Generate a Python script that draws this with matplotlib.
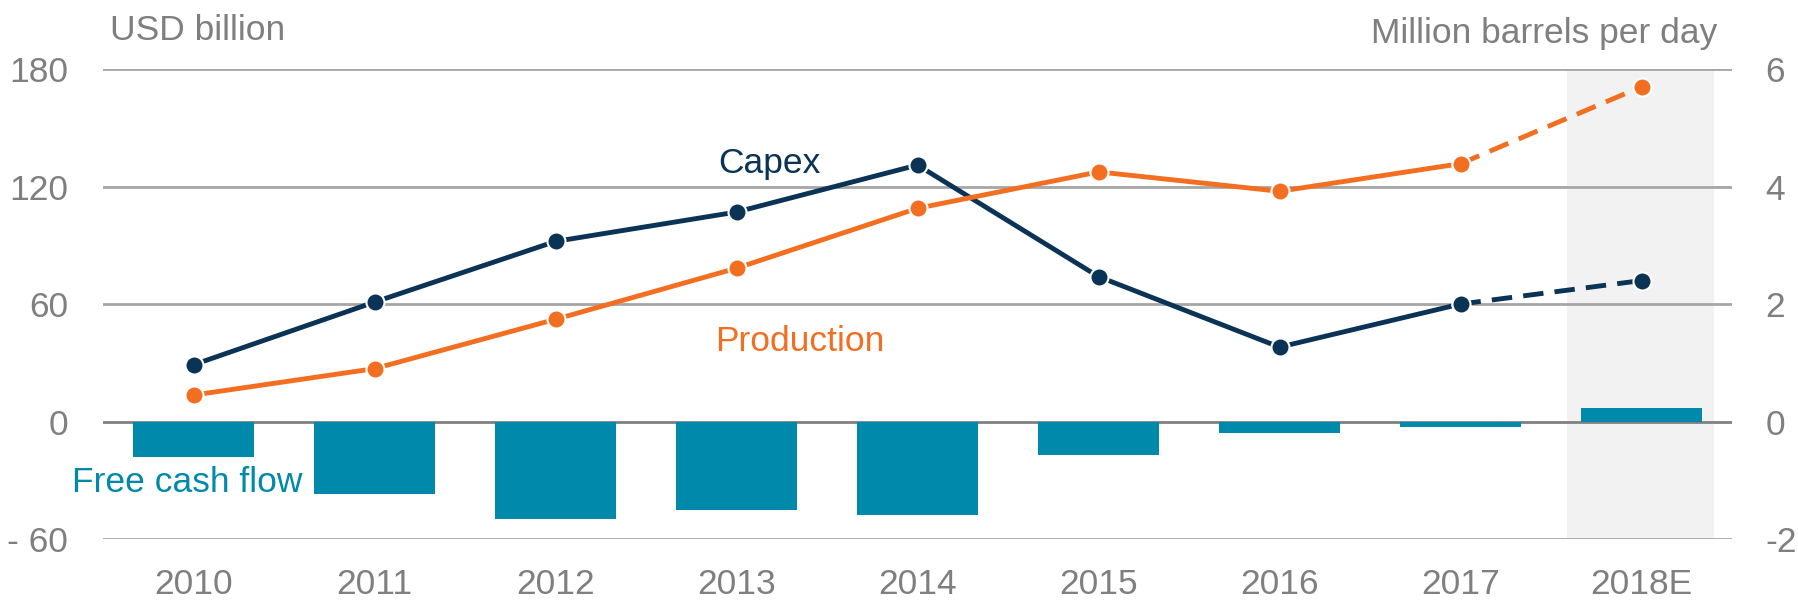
import matplotlib
matplotlib.use("Agg")
import matplotlib.pyplot as plt
from matplotlib import font_manager as fm
import numpy as np

years = ["2010", "2011", "2012", "2013", "2014", "2015", "2016", "2017", "2018E"]
free_cash_flow = [-18, -37, -50, -45, -48, -17, -6, -3, 7]
capex = [29, 61, 92, 107, 131, 74, 38, 60, 72]
production = [0.45, 0.9, 1.74, 2.61, 3.63, 4.25, 3.92, 4.39, 5.70]
left_ticks = [-60, 0, 60, 120, 180]
left_tick_labels = ["- 60", "0", "60", "120", "180"]
right_ticks = [-2, 0, 2, 4, 6]
right_tick_labels = ["-2", "0", "2", "4", "6"]

names = {f.name for f in fm.fontManager.ttflist}
fam = [f for f in ["Liberation Sans Narrow", "Liberation Sans", "DejaVu Sans"] if f in names]
plt.rcParams["font.family"] = fam

GRAY = "#7f7f7f"
NAVY = "#0b3356"
ORANGE = "#f26f21"
TEAL = "#0089ab"
FS = 25.5

fig = plt.figure(figsize=(17.98, 6.01), dpi=100)
ax = fig.add_axes([0.0573, 0.1032, 0.9060, 0.7818])
ax2 = ax.twinx()

x = np.arange(len(years))
ax.axvspan(x[-1] - 0.41, x[-1] + 0.40, color="#f2f2f2", zorder=0, lw=0)
for t in left_ticks:
    ax.axhline(t, color="#808080" if t == 0 else "#a6a6a6", lw=2, zorder=1)

ax.bar(x, free_cash_flow, width=0.67, color=TEAL, zorder=2)

mk = dict(marker="o", markersize=13, markeredgecolor="white", markeredgewidth=1.5)
n = len(years)
dash = (0, (4.2, 2.3))
ax.plot(x[:n - 1], capex[:n - 1], color=NAVY, lw=3.5, zorder=3, **mk)
ax.plot(x[n - 2:], capex[n - 2:], color=NAVY, lw=3.5, ls=dash, zorder=3, **mk)
ax2.plot(x[:n - 1], production[:n - 1], color=ORANGE, lw=3.5, zorder=3, **mk)
ax2.plot(x[n - 2:], production[n - 2:], color=ORANGE, lw=3.5, ls=dash, zorder=3, **mk)

ax.set_xlim(-0.5, n - 0.5)
ax.set_ylim(-60, 180)
ax2.set_ylim(-2, 6)
ax.set_yticks(left_ticks)
ax.set_yticklabels(left_tick_labels)
ax2.set_yticks(right_ticks)
ax2.set_yticklabels(right_tick_labels)
ax.set_xticks(x)
ax.set_xticklabels(years)

for a in (ax, ax2):
    for s in a.spines.values():
        s.set_visible(False)
    a.tick_params(length=0, labelsize=FS, labelcolor=GRAY)
ax.tick_params(axis="y", pad=25)
ax2.tick_params(axis="y", pad=24)
ax.tick_params(axis="x", pad=21)

ax.text(0.004, 1.062, "USD billion", transform=ax.transAxes, fontsize=FS, color=GRAY,
        ha="left", va="baseline")
ax2.text(0.991, 1.055, "Million barrels per day", transform=ax.transAxes, fontsize=FS, color=GRAY,
         ha="right", va="baseline")

ax.text(3.18, 127, "Capex", fontsize=FS, color=NAVY, ha="center", va="baseline")
ax.text(3.35, 36, "Production", fontsize=FS, color=ORANGE, ha="center", va="baseline")
ax.text(-0.036, -36, "Free cash flow", fontsize=FS, color=TEAL, ha="center", va="baseline")

fig.savefig("out.png", dpi=100)
